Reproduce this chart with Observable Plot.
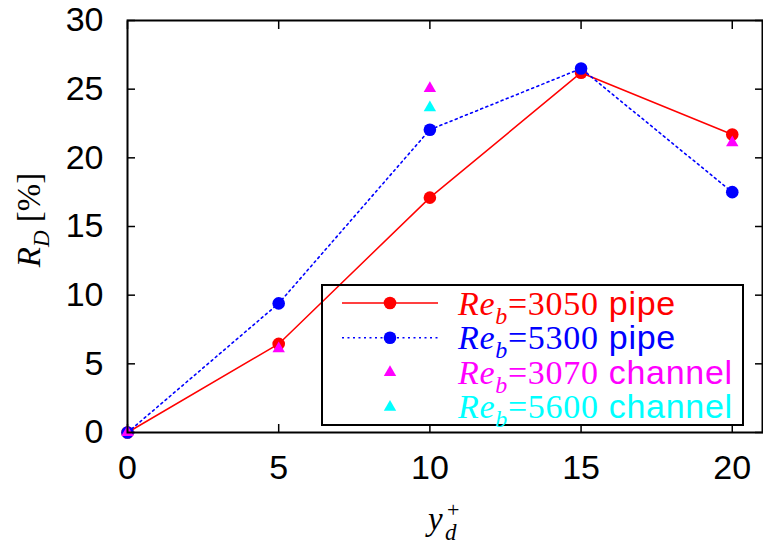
<!DOCTYPE html>
<html><head><meta charset="utf-8">
<script src="https://cdn.jsdelivr.net/npm/d3@7"></script>
<script src="https://cdn.jsdelivr.net/npm/@observablehq/plot@0.6"></script>
<style>body{margin:0;background:#fff}</style>
</head><body><div id="chart"></div>
<script>
// ---- data ----
const yPlus = [0, 5, 10, 15, 20];
const pipe3050 = [0, 6.45, 17.1, 26.2, 21.7];
const pipe5300 = [0, 9.4, 22.05, 26.5, 17.5];
const channel3070X = [0, 5, 10, 20];
const channel3070 = [0, 6.1, 25.05, 21.1];
const channel5600X = [10];
const channel5600 = [23.65];
const xTicks = [0, 5, 10, 15, 20];
const yTicks = [0, 5, 10, 15, 20, 25, 30];
const seriesRe = ["3050", "5300", "3070", "5600"];
const seriesKind = ["pipe", "pipe", "channel", "channel"];
const seriesColor = ["#ff0000", "#0000ff", "#ff00ff", "#00ffff"];

const rows = (xs, ys) => xs.map((x, i) => ({x, y: ys[i]}));
const r3050 = rows(yPlus, pipe3050);
const r5300 = rows(yPlus, pipe5300);
const r3070 = rows(channel3070X, channel3070);
const r5600 = rows(channel5600X, channel5600);

const sans = "'Liberation Sans', Arial, sans-serif";
const serif = "'Liberation Serif', 'Times New Roman', serif";
const dash = "2,3.5";

const plot = Plot.plot({
  width: 763, height: 545,
  marginLeft: 127, marginRight: 1, marginTop: 20, marginBottom: 113,
  style: {fontFamily: sans, fontSize: "34px", background: "white", color: "black", overflow: "visible"},
  x: {domain: [0, 21]},
  y: {domain: [0, 30]},
  marks: [
    Plot.axisX(xTicks, {anchor: "bottom", tickSize: 0, tickPadding: 22, fontSize: 34, label: null}),
    Plot.axisY(yTicks, {anchor: "left", tickSize: 0, tickPadding: 24, fontSize: 34, label: null}),
    Plot.axisX(xTicks, {anchor: "bottom", tickSize: -8, fill: "none", strokeWidth: 1.5, label: null}),
    Plot.axisX(xTicks, {anchor: "top", tickSize: -8, fill: "none", strokeWidth: 1.5, label: null}),
    Plot.axisY(yTicks, {anchor: "left", tickSize: -8, fill: "none", strokeWidth: 1.5, label: null}),
    Plot.axisY(yTicks, {anchor: "right", tickSize: -8, fill: "none", strokeWidth: 1.5, label: null}),
    Plot.line(r3050, {x: "x", y: "y", stroke: seriesColor[0], strokeWidth: 1.5}),
    Plot.dot(r3050, {x: "x", y: "y", r: 6.3, fill: seriesColor[0]}),
    Plot.line(r5300, {x: "x", y: "y", stroke: seriesColor[1], strokeWidth: 1.6, strokeDasharray: dash}),
    Plot.dot(r5300, {x: "x", y: "y", r: 6.3, fill: seriesColor[1]}),
    Plot.dot(r3070, {x: "x", y: "y", r: 4.6, symbol: "triangle", fill: seriesColor[2]}),
    Plot.dot(r5600, {x: "x", y: "y", r: 4.6, symbol: "triangle", fill: seriesColor[3]}),
    Plot.frame({strokeWidth: 2})
  ]
});
document.getElementById("chart").appendChild(plot);

const svg = d3.select(plot);

// axis labels with sub/superscripts
const yl = svg.append("text")
  .attr("transform", "translate(40,220) rotate(-90)")
  .attr("text-anchor", "middle")
  .attr("font-family", serif).attr("font-size", 33).attr("fill", "black");
yl.append("tspan").attr("font-style", "italic").text("R");
yl.append("tspan").attr("font-style", "italic").attr("font-size", 23).attr("dy", 9).text("D");
yl.append("tspan").attr("dy", -9).text(" [%]");

const xl = svg.append("g").attr("font-family", serif).attr("fill", "black").attr("text-anchor", "start");
xl.append("text").attr("x", 428).attr("y", 530)
  .attr("font-size", 33).attr("font-style", "italic").text("y");
xl.append("text").attr("x", 445).attr("y", 540)
  .attr("font-size", 23).attr("font-style", "italic").text("d");
xl.append("text").attr("x", 447).attr("y", 517)
  .attr("font-size", 22).text("+");

// legend
const lg = svg.append("g").attr("text-anchor", "start");
lg.append("rect").attr("x", 322).attr("y", 285).attr("width", 421).attr("height", 140)
  .attr("fill", "none").attr("stroke", "black").attr("stroke-width", 2);
seriesRe.forEach((re, i) => {
  const cy = 303 + 34.7 * i;
  const base = 315 + 34.3 * i;
  const c = seriesColor[i];
  if (i < 2) {
    lg.append("line").attr("x1", 342).attr("x2", 438).attr("y1", cy).attr("y2", cy)
      .attr("stroke", c).attr("stroke-width", i === 0 ? 1.5 : 1.6)
      .attr("stroke-dasharray", i === 1 ? dash : null);
    lg.append("circle").attr("cx", 390).attr("cy", cy).attr("r", 6.3).attr("fill", c);
  } else {
    lg.append("path").attr("transform", `translate(390,${cy})`)
      .attr("d", d3.symbol(d3.symbolTriangle, Math.PI * 4.6 * 4.6)()).attr("fill", c);
  }
  const t = lg.append("text").attr("x", 458).attr("y", base).attr("fill", c)
    .attr("font-size", 34).attr("letter-spacing", 0.7)
    .attr("font-family", serif).attr("text-anchor", "start");
  t.append("tspan").attr("font-style", "italic").text("Re");
  t.append("tspan").attr("font-style", "italic").attr("font-size", 24).attr("dy", 9).text("b");
  t.append("tspan").attr("dy", -9).text("=" + re);
  t.append("tspan").attr("font-family", sans).text(" " + seriesKind[i]);
});
</script>
</body></html>
